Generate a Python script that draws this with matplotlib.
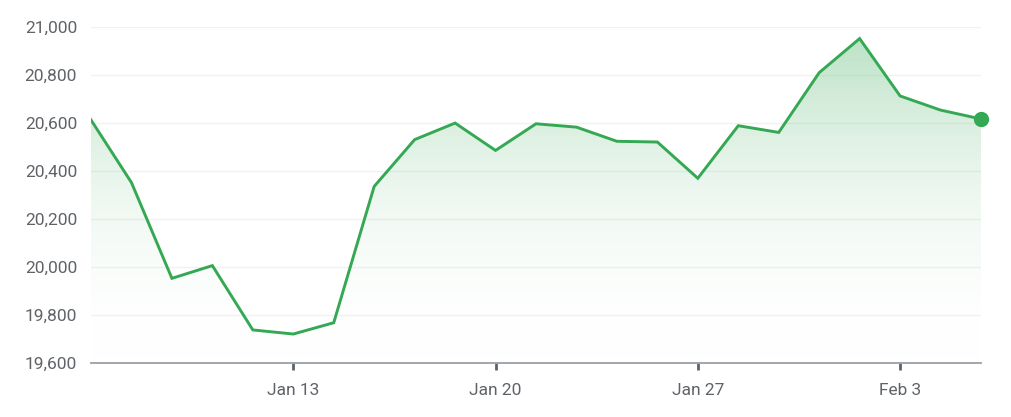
import matplotlib.pyplot as plt
import numpy as np
from matplotlib.colors import LinearSegmentedColormap

# trading days Jan 6 .. Feb 5
dates = ['Jan 6', 'Jan 7', 'Jan 8', 'Jan 9', 'Jan 10',
         'Jan 13', 'Jan 14', 'Jan 15', 'Jan 16', 'Jan 17',
         'Jan 20', 'Jan 21', 'Jan 22', 'Jan 23', 'Jan 24',
         'Jan 27', 'Jan 28', 'Jan 29', 'Jan 30', 'Jan 31',
         'Feb 3', 'Feb 4', 'Feb 5']
values = [20614, 20353, 19954, 20007, 19739,
          19722, 19769, 20337, 20532, 20601,
          20487, 20598, 20584, 20525, 20522,
          20371, 20590, 20562, 20811, 20953,
          20714, 20655, 20618]
tick_labels = ['Jan 13', 'Jan 20', 'Jan 27', 'Feb 3']
y_ticks = [19600, 19800, 20000, 20200, 20400, 20600, 20800, 21000]

green = '#34a853'
grey = '#5f6368'

plt.rcParams['font.family'] = ['Roboto', 'DejaVu Sans']

x = np.arange(len(values))
fig = plt.figure(figsize=(10.12, 4.17), dpi=100)
ax = fig.add_axes([91 / 1012, (417 - 363.3) / 417, 890 / 1012, 336 / 417])

ax.set_xlim(0, len(values) - 1)
ax.set_ylim(19600, 21000)

# gradient fill under the line
poly = ax.fill_between(x, values, 19600, color='none', lw=0)
cmap = LinearSegmentedColormap.from_list('g', [(1, 1, 1, 0), (0.204, 0.659, 0.325, 0.33)])
grad = np.linspace(0, 1, 256).reshape(-1, 1)
img = ax.imshow(grad, cmap=cmap, aspect='auto', origin='lower',
                extent=[0, len(values) - 1, 19600, max(values)], zorder=1)
img.set_clip_path(poly.get_paths()[0], transform=ax.transData)

ax.plot(x, values, color=green, lw=2.1, zorder=3, solid_joinstyle='miter')
ax.plot(x[-1], values[-1], 'o', color=green, ms=10, zorder=4, clip_on=False)

ax.set_yticks(y_ticks)
ax.set_yticklabels([f'{v:,}' for v in y_ticks])
ax.set_xticks([dates.index(t) for t in tick_labels])
ax.set_xticklabels(tick_labels)

ax.grid(axis='y', color='#f1f1f1', lw=1)
ax.set_axisbelow(True)
for s in ['top', 'right', 'left']:
    ax.spines[s].set_visible(False)
ax.spines['bottom'].set_color('#9aa0a6')
ax.spines['bottom'].set_linewidth(1.3)
ax.tick_params(axis='y', length=0, pad=10, labelsize=12.5, labelcolor=grey)
ax.tick_params(axis='x', length=5, width=2, color=grey, pad=9, labelsize=12.5, labelcolor=grey)

fig.savefig('out.png', dpi=100)
